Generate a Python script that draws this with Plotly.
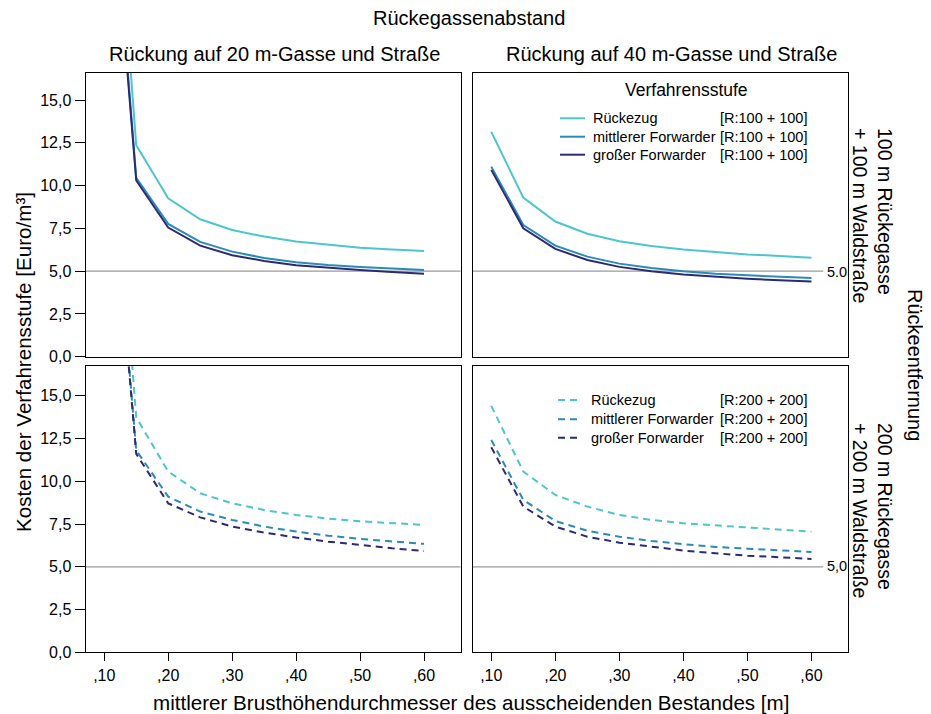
import plotly.graph_objects as go

# ---------------- data ----------------
dbh = [0.10, 0.15, 0.20, 0.25, 0.30, 0.35, 0.40, 0.45, 0.50, 0.55, 0.60]
series_names = ["Rückezug", "mittlerer Forwarder", "großer Forwarder"]

# top-left: 20 m Gasse, R:100 + 100
tl_rueckezug = [37.5, 12.36, 9.26, 8.03, 7.41, 7.02, 6.73, 6.53, 6.37, 6.26, 6.18]
tl_mittlerer = [34.0, 10.45, 7.76, 6.71, 6.14, 5.77, 5.52, 5.36, 5.25, 5.15, 5.07]
tl_grosser = [33.3, 10.30, 7.55, 6.49, 5.93, 5.60, 5.34, 5.19, 5.07, 4.95, 4.85]
# top-right: 40 m Gasse, R:100 + 100
tr_rueckezug = [13.14, 9.30, 7.90, 7.19, 6.75, 6.47, 6.26, 6.10, 5.98, 5.89, 5.79]
tr_mittlerer = [11.11, 7.70, 6.49, 5.85, 5.44, 5.19, 4.99, 4.85, 4.76, 4.68, 4.60]
tr_grosser = [10.92, 7.51, 6.30, 5.65, 5.25, 4.99, 4.80, 4.66, 4.56, 4.47, 4.39]
# bottom-left: 20 m Gasse, R:200 + 200
bl_rueckezug = [37.9, 13.74, 10.57, 9.30, 8.71, 8.32, 8.03, 7.82, 7.66, 7.54, 7.45]
bl_mittlerer = [34.0, 11.80, 9.10, 8.23, 7.74, 7.35, 7.06, 6.82, 6.63, 6.47, 6.34]
bl_grosser = [33.5, 11.60, 8.71, 7.89, 7.35, 7.00, 6.71, 6.47, 6.28, 6.08, 5.93]
# bottom-right: 40 m Gasse, R:200 + 200
br_rueckezug = [14.41, 10.57, 9.20, 8.52, 8.03, 7.74, 7.54, 7.41, 7.29, 7.17, 7.06]
br_mittlerer = [12.42, 8.91, 7.68, 7.11, 6.76, 6.51, 6.32, 6.16, 6.06, 5.96, 5.87]
br_grosser = [11.99, 8.52, 7.35, 6.76, 6.41, 6.16, 5.95, 5.79, 5.65, 5.56, 5.46]

x_tickvals = [0.1, 0.2, 0.3, 0.4, 0.5, 0.6]
x_ticktext = [",10", ",20", ",30", ",40", ",50", ",60"]
y_tickvals = [0, 2.5, 5, 7.5, 10, 12.5, 15]
y_ticktext = ["0,0", "2,5", "5,0", "7,5", "10,0", "12,5", "15,0"]
ref_value = 5.0
legend_tags = ["[R:100 + 100]", "[R:200 + 200]"]

# ---------------- style ----------------
OFF = 8  # page body margin
W, H = 931 - OFF, 714 - OFF
FONT = "Liberation Sans, Arial, sans-serif"
colors = ["#4CC6CD", "#2A8CB6", "#2B2A78"]


def px(x):
    return (x - OFF) / W


def py(y):
    return 1 - (y - OFF) / H


fig = go.Figure()

panels = [
    ("x", "y", [tl_rueckezug, tl_mittlerer, tl_grosser], "solid"),
    ("x2", "y2", [tr_rueckezug, tr_mittlerer, tr_grosser], "solid"),
    ("x3", "y3", [bl_rueckezug, bl_mittlerer, bl_grosser], "7px,5px"),
    ("x4", "y4", [br_rueckezug, br_mittlerer, br_grosser], "7px,5px"),
]
for xa, ya, vals, dash in panels:
    for name, v, c in zip(series_names, vals, colors):
        fig.add_trace(go.Scatter(x=dbh, y=v, xaxis=xa, yaxis=ya, mode="lines",
                                 name=name, showlegend=False,
                                 line=dict(color=c, width=2, dash=dash)))

xdomL = [px(85.7), px(460.5)]
xdomR = [px(472.7), px(848)]
ydomT = [py(356.7), py(72.7)]
ydomB = [py(652.3), py(366)]
xr = [0.071, 0.657]

common_x = dict(range=xr, showline=True, linecolor="black", linewidth=1.3, mirror=True,
                showgrid=False, zeroline=False, tickvals=x_tickvals, ticktext=x_ticktext,
                tickfont=dict(family=FONT, size=16, color="black"), automargin=False)
common_y = dict(showline=True, linecolor="black", linewidth=1.3, mirror=True,
                showgrid=False, zeroline=False, tickvals=y_tickvals, ticktext=y_ticktext,
                tickfont=dict(family=FONT, size=16, color="black"), automargin=False)

fig.update_layout(
    xaxis=dict(common_x, domain=xdomL, anchor="y", showticklabels=False, ticks=""),
    yaxis=dict(common_y, domain=ydomT, anchor="x", range=[0, 16.6], ticks="outside",
               ticklen=10, tickcolor="black", tickwidth=1.3),
    xaxis2=dict(common_x, domain=xdomR, anchor="y2", showticklabels=False, ticks=""),
    yaxis2=dict(common_y, domain=ydomT, anchor="x2", range=[0, 16.6], showticklabels=False,
                ticks=""),
    xaxis3=dict(common_x, domain=xdomL, anchor="y3", ticks="outside", ticklen=8,
                tickcolor="black", tickwidth=1.3),
    yaxis3=dict(common_y, domain=ydomB, anchor="x3", range=[0, 16.74], ticks="outside",
                ticklen=10, tickcolor="black", tickwidth=1.3),
    xaxis4=dict(common_x, domain=xdomR, anchor="y4", ticks="outside", ticklen=8,
                tickcolor="black", tickwidth=1.3),
    yaxis4=dict(common_y, domain=ydomB, anchor="x4", range=[0, 16.74], showticklabels=False,
                ticks=""),
)

# reference lines at 5,0
shapes = []
for xa, ya, x1 in [("x", "y", 1), ("x2", "y2", 0.934), ("x3", "y3", 1), ("x4", "y4", 0.934)]:
    shapes.append(dict(type="line", xref=xa + " domain", yref=ya, x0=0, x1=x1,
                       y0=ref_value, y1=ref_value, line=dict(color="#9A9A9A", width=1.2),
                       layer="below"))

annotations = []


def text(t, x, y, size, angle=0, xanchor="center", align="center"):
    annotations.append(dict(text=t, x=px(x), y=py(y), xref="paper", yref="paper",
                            showarrow=False, textangle=angle, xanchor=xanchor,
                            yanchor="middle", align=align,
                            font=dict(family=FONT, size=size, color="black")))


text("Rückegassenabstand", 468.5, 18, 20)
text("Rückung auf 20 m-Gasse und Straße", 274, 54, 20)
text("Rückung auf 40 m-Gasse und Straße", 671, 54, 20)
text("mittlerer Brusthöhendurchmesser des ausscheidenden Bestandes [m]", 471, 702, 20.6)
text("Kosten der Verfahrensstufe [Euro/m³]", 23, 362, 20.6, angle=-90)
text("100 m Rückegasse<br>+ 100 m Waldstraße", 873, 215, 19.5, angle=90, align="left")
text("200 m Rückegasse<br>+ 200 m Waldstraße", 873, 510, 19.5, angle=90, align="left")
text("Rückeentfernung", 915, 365, 20, angle=90)
text("5.0", 825, 272, 14.5, xanchor="left")
text("5,0", 825, 566, 14.5, xanchor="left")

# legends
text("Verfahrensstufe", 686.7, 90.5, 17.5)
leg_rows = [
    ([118.3, 136.7, 154.7], 560, 585, 590.5, 718.3, "solid", legend_tags[0]),
    ([400, 419.3, 437.7], 558, 581, 589, 717.7, "7px,5px", legend_tags[1]),
]
for rows, lx0, lx1, tx, bx, dash, tag in leg_rows:
    for yy, name, c in zip(rows, series_names, colors):
        shapes.append(dict(type="line", xref="paper", yref="paper", x0=px(lx0), x1=px(lx1),
                           y0=py(yy), y1=py(yy), line=dict(color=c, width=2, dash=dash)))
        text(name, tx, yy, 14.5, xanchor="left")
        text(tag, bx, yy, 14.5, xanchor="left")

fig.update_layout(
    width=W, height=H, margin=dict(l=0, r=0, t=0, b=0),
    paper_bgcolor="white", plot_bgcolor="white",
    font=dict(family=FONT, color="black"),
    showlegend=False, shapes=shapes, annotations=annotations,
)

fig.write_html("out.html")
